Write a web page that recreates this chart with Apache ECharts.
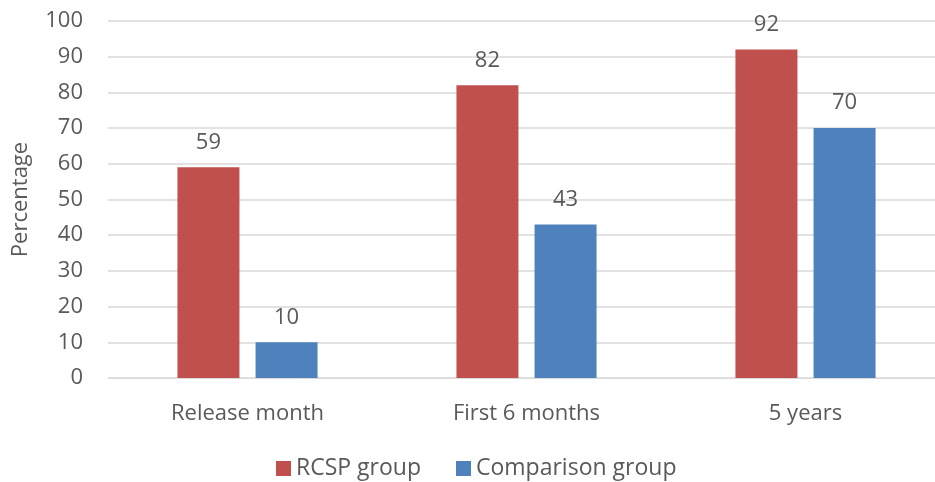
<!DOCTYPE html>
<html>
<head>
<meta charset="utf-8">
<script src="https://cdn.jsdelivr.net/npm/echarts@6/dist/echarts.min.js"></script>
<style>html,body{margin:0;padding:0;background:#fff;overflow:hidden;width:935px;height:482px;}#c{width:945px;height:482px;}</style>
</head>
<body>
<div id="c"></div>
<script>
const categories = ["Release month", "First 6 months", "5 years"];
const rcspValues = [59, 82, 92];
const comparisonValues = [10, 43, 70];
const seriesNames = ["RCSP group", "Comparison group"];
const yTicks = [0, 10, 20, 30, 40, 50, 60, 70, 80, 90, 100];

const FONT = "'Open Sans', 'Noto Sans', sans-serif";
const TXT = "#595959";
const FS = 22;
const chart = echarts.init(document.getElementById('c'), null, {renderer: 'canvas'});
const labelCfg = {show: true, position: 'top', distance: 14, color: TXT, fontSize: FS, fontFamily: FONT};
chart.setOption({
  animation: false,
  textStyle: {fontFamily: FONT},
  grid: {left: 108, top: 21, right: 0, height: 357, containLabel: false},
  legend: {
    top: 457, left: 276, itemWidth: 15, itemHeight: 15, itemGap: 35,
    icon: 'rect', padding: 0,
    textStyle: {color: TXT, fontSize: 23, fontFamily: FONT, lineHeight: 22},
    data: seriesNames
  },
  xAxis: {
    type: 'category', data: categories,
    axisLine: {show: true, lineStyle: {color: '#D9D9D9', width: 1}},
    axisTick: {show: false},
    axisLabel: {color: TXT, fontSize: FS, fontFamily: FONT, margin: 25}
  },
  yAxis: {
    type: 'value', min: yTicks[0], max: yTicks[yTicks.length - 1], interval: 10,
    name: 'Percentage', nameLocation: 'middle', nameGap: 76,
    nameTextStyle: {color: TXT, fontSize: FS, fontFamily: FONT},
    axisLine: {show: false}, axisTick: {show: false},
    axisLabel: {color: TXT, fontSize: FS, fontFamily: FONT, margin: 25},
    splitLine: {lineStyle: {color: '#D9D9D9', width: 1.5}}
  },
  series: [
    {name: seriesNames[0], type: 'bar', data: rcspValues, barWidth: 62, barGap: '26%',
     itemStyle: {color: '#C0504D'}, label: labelCfg},
    {name: seriesNames[1], type: 'bar', data: comparisonValues, barWidth: 62, barGap: '26%',
     itemStyle: {color: '#4F81BD'}, label: labelCfg}
  ]
});
</script>
</body>
</html>
